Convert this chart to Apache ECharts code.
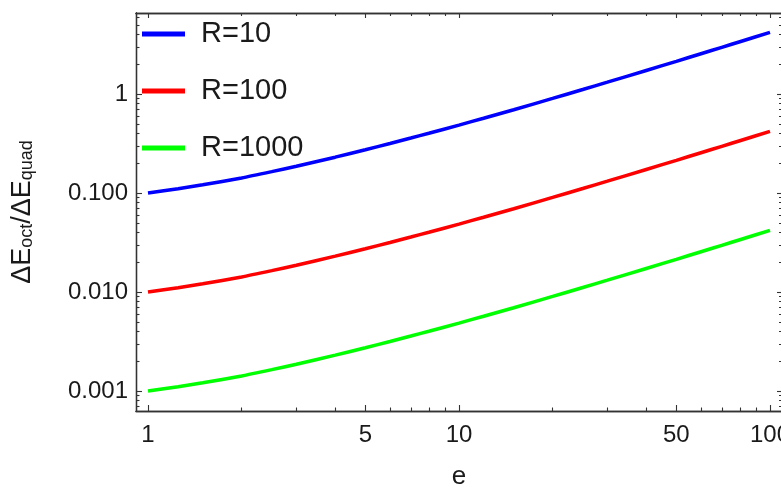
<!DOCTYPE html>
<html>
<head>
<meta charset="utf-8">
<script src="https://cdn.jsdelivr.net/npm/echarts@6/dist/echarts.min.js"></script>
<style>
  html, body { margin: 0; padding: 0; background: #fff; }
  #chart { width: 781px; height: 488px; }
</style>
</head>
<body>
<div id="chart"></div>
<script>
// Eccentricity samples and the octupole/quadrupole energy ratio for three R values
const eValues = [1, 1.25, 1.5, 2, 2.5, 3, 4, 5, 6, 7, 8, 10, 12, 15, 20, 25, 30, 40, 50, 60, 70, 80, 100];
const ratioR10 = [0.1, 0.1106, 0.1211, 0.142, 0.1643, 0.1863, 0.2301, 0.2734, 0.3162, 0.3589, 0.4012, 0.4851,
  0.569, 0.694, 0.903, 1.11, 1.316, 1.728, 2.139, 2.551, 2.961, 3.373, 4.2];
const ratioR100 = [0.01, 0.01106, 0.01211, 0.0142, 0.01643, 0.01863, 0.02301, 0.02734, 0.03162, 0.03589, 0.04012, 0.04851,
  0.0569, 0.0694, 0.0903, 0.111, 0.1316, 0.1728, 0.2139, 0.2551, 0.2961, 0.3373, 0.42];
const ratioR1000 = [0.001, 0.001106, 0.001211, 0.00142, 0.001643, 0.001863, 0.002301, 0.002734, 0.003162, 0.003589, 0.004012, 0.004851,
  0.00569, 0.00694, 0.00903, 0.0111, 0.01316, 0.01728, 0.02139, 0.02551, 0.02961, 0.03373, 0.042];
const seriesNames = ['R=10', 'R=100', 'R=1000'];

// Tick marks and labels
const xMajorTicks = [1, 5, 10, 50, 100];
const xTickLabels = ['1', '5', '10', '50', '100'];
const xMinorTicks = [2, 3, 4, 6, 7, 8, 9, 20, 30, 40, 60, 70, 80, 90];
const yMajorTicks = [0.001, 0.01, 0.1, 1];
const yTickLabels = ['0.001', '0.010', '0.100', '1'];
const yMinorTicks = [0.0007, 0.0008, 0.0009, 0.002, 0.003, 0.004, 0.005, 0.006, 0.007, 0.008, 0.009,
  0.02, 0.03, 0.04, 0.05, 0.06, 0.07, 0.08, 0.09, 0.2, 0.3, 0.4, 0.5, 0.6, 0.7, 0.8, 0.9, 2, 3, 4, 5, 6];

const X_MIN = 0.915, X_MAX = 109.3;
const Y_MIN = 0.000628, Y_MAX = 6.58;
const FONT = 'Liberation Sans, Arial, sans-serif';
const AXIS_COLOR = '#333';
const TEXT_COLOR = '#1a1a1a';

function nearestIndex(list, v) {
  // pick the tick whose value is closest to v in log space
  let best = 0, bestD = Infinity;
  for (let i = 0; i < list.length; i++) {
    const d = Math.abs(Math.log10(list[i]) - Math.log10(v));
    if (d < bestD) { bestD = d; best = i; }
  }
  return best;
}

function makeXAxis(position, ticks, len, showLabels) {
  return {
    type: 'log', logBase: 10, min: X_MIN, max: X_MAX, position: position,
    axisLine: { show: true, lineStyle: { color: AXIS_COLOR, width: 1.3 } },
    axisTick: { show: true, inside: true, length: len, customValues: ticks, lineStyle: { color: AXIS_COLOR, width: 1.1 } },
    axisLabel: showLabels ? {
      show: true, customValues: xMajorTicks, margin: 12, fontSize: 24, color: TEXT_COLOR, fontFamily: FONT,
      formatter: v => xTickLabels[nearestIndex(xMajorTicks, v)]
    } : { show: false },
    splitLine: { show: false }, minorTick: { show: false }
  };
}

function makeYAxis(position, ticks, len, showLabels) {
  return {
    type: 'log', logBase: 10, min: Y_MIN, max: Y_MAX, position: position,
    axisLine: { show: true, lineStyle: { color: AXIS_COLOR, width: 1.3 } },
    axisTick: { show: true, inside: true, length: len, customValues: ticks, lineStyle: { color: AXIS_COLOR, width: 1.1 } },
    axisLabel: showLabels ? {
      show: true, customValues: yMajorTicks, margin: 8, fontSize: 24, color: TEXT_COLOR, fontFamily: FONT,
      formatter: v => yTickLabels[nearestIndex(yMajorTicks, v)]
    } : { show: false },
    splitLine: { show: false }, minorTick: { show: false }
  };
}

const xAxes = [
  Object.assign(makeXAxis('bottom', xMajorTicks, 6, true), {
    name: 'e', nameLocation: 'middle', nameGap: 53,
    nameTextStyle: { fontSize: 26, color: TEXT_COLOR, fontFamily: FONT }
  }),
  makeXAxis('bottom', xMinorTicks, 3.5, false),
  makeXAxis('top', xMajorTicks, 5, false),
  makeXAxis('top', xMinorTicks, 3, false)
];

const yAxes = [
  Object.assign(makeYAxis('left', yMajorTicks, 6, true), {
    name: '{m|ΔE}{s|oct}{m|/ΔE}{s|quad}', nameLocation: 'middle', nameGap: 100, nameRotate: 90,
    nameTextStyle: {
      fontFamily: FONT, color: TEXT_COLOR,
      rich: {
        m: { fontSize: 27, fontFamily: FONT, color: TEXT_COLOR, lineHeight: 32, verticalAlign: 'bottom' },
        s: { fontSize: 18, fontFamily: FONT, color: TEXT_COLOR, lineHeight: 24, verticalAlign: 'bottom' }
      }
    }
  }),
  makeYAxis('left', yMinorTicks, 3.5, false),
  makeYAxis('right', yMajorTicks, 5, false),
  makeYAxis('right', yMinorTicks, 3, false)
];

function toPoints(ys) {
  return eValues.map((e, i) => [e, ys[i]]);
}

const colors = ['#0000ff', '#ff0000', '#00ff00'];
const seriesData = [ratioR10, ratioR100, ratioR1000];

const option = {
  animation: false,
  backgroundColor: '#fff',
  grid: { left: 136, top: 13, width: 646, height: 398, outerBoundsMode: 'none', containLabel: false },
  legend: {
    orient: 'vertical', left: 137, top: 14, itemWidth: 43, itemHeight: 5, itemGap: 27,
    icon: 'rect',
    data: seriesNames,
    textStyle: { fontSize: 29, color: TEXT_COLOR, fontFamily: FONT, lineHeight: 30, padding: [0, 0, 0, 11] }
  },
  xAxis: xAxes,
  yAxis: yAxes,
  series: seriesNames.map((name, i) => ({
    name: name,
    type: 'line',
    xAxisIndex: 0,
    yAxisIndex: 0,
    smooth: 0.2,
    showSymbol: false,
    color: colors[i],
    lineStyle: { width: 3.5, color: colors[i] },
    data: toPoints(seriesData[i])
  }))
};

const chart = echarts.init(document.getElementById('chart'), null, { renderer: 'canvas' });
chart.setOption(option);
</script>
</body>
</html>
